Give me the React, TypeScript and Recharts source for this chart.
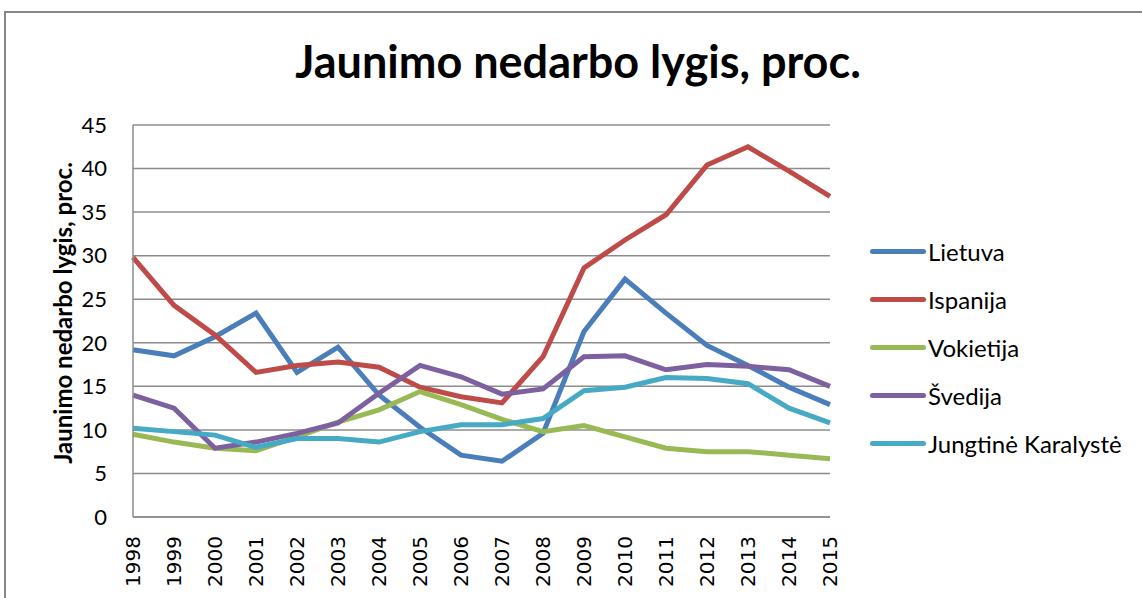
import { CartesianGrid, Label, Line, LineChart, XAxis, YAxis } from "recharts";

const years = [
  "1998", "1999", "2000", "2001", "2002", "2003", "2004", "2005", "2006",
  "2007", "2008", "2009", "2010", "2011", "2012", "2013", "2014", "2015",
];

const lietuva = [19.2, 18.5, 20.7, 23.4, 16.6, 19.5, 14.0, 10.3, 7.1, 6.4, 9.6, 21.3, 27.3, 23.4, 19.7, 17.4, 14.9, 12.9];
const ispanija = [29.8, 24.3, 20.9, 16.6, 17.4, 17.8, 17.2, 14.9, 13.8, 13.1, 18.4, 28.6, 31.8, 34.7, 40.4, 42.5, 39.7, 36.8];
const vokietija = [9.5, 8.6, 7.9, 7.6, 9.2, 10.9, 12.3, 14.4, 12.9, 11.2, 9.8, 10.5, 9.2, 7.9, 7.5, 7.5, 7.1, 6.7];
const svedija = [14.0, 12.5, 7.9, 8.6, 9.6, 10.8, 14.2, 17.4, 16.1, 14.1, 14.7, 18.4, 18.5, 16.9, 17.5, 17.3, 16.9, 15.0];
const jungtine = [10.2, 9.8, 9.4, 8.0, 9.0, 9.0, 8.6, 9.8, 10.6, 10.6, 11.3, 14.5, 14.9, 16.0, 15.9, 15.3, 12.5, 10.8];

const yTicks = [0, 5, 10, 15, 20, 25, 30, 35, 40, 45];

const series = [
  { key: "lietuva", name: "Lietuva", color: "#4A7EBB", values: lietuva },
  { key: "ispanija", name: "Ispanija", color: "#BE4B48", values: ispanija },
  { key: "vokietija", name: "Vokietija", color: "#98B954", values: vokietija },
  { key: "svedija", name: "Švedija", color: "#7D60A0", values: svedija },
  { key: "jungtine", name: "Jungtinė Karalystė", color: "#46AAC5", values: jungtine },
];

const data = years.map((year, i) => {
  const row: Record<string, string | number> = { year };
  series.forEach((s) => {
    row[s.key] = s.values[i];
  });
  return row;
});

const font = "Lato, 'Open Sans', sans-serif";

function YearTick(props: any) {
  const { x, y, payload } = props;
  return (
    <text
      x={x}
      y={y}
      transform={`rotate(-90, ${x}, ${y})`}
      textAnchor="end"
      dominantBaseline="central"
      fontFamily="'DejaVu Sans', sans-serif"
      fontSize={20}
      fill="#000"
    >
      {payload.value}
    </text>
  );
}

export default function App() {
  return (
    <div style={{ position: "absolute", left: 0, top: 0, width: 1142, height: 598, background: "#fff", overflow: "hidden" }}>
      <div
        style={{
          position: "absolute",
          left: 4,
          top: 11,
          width: 1200,
          height: 700,
          border: "2px solid #878787",
        }}
      />
      <div
        style={{
          position: "absolute",
          left: 0,
          width: 1156,
          top: 34,
          textAlign: "center",
          fontFamily: font,
          fontWeight: 700,
          fontSize: 45,
          color: "#000",
        }}
      >
        Jaunimo nedarbo lygis, proc.
      </div>
      <div style={{ position: "absolute", left: 0, top: 0 }}>
        <LineChart width={1142} height={598} data={data} margin={{ top: 125, right: 312, bottom: 6, left: 73 }}>
          <CartesianGrid vertical={false} stroke="#8c8c8c" strokeWidth={1.5} />
          <XAxis
            dataKey="year"
            interval={0}
            height={75}
            axisLine={{ stroke: "#8c8c8c", strokeWidth: 1.5 }}
            tickLine={false}
            tickSize={0}
            tickMargin={19}
            tick={<YearTick />}
          />
          <YAxis
            domain={[0, 45]}
            ticks={yTicks}
            width={60}
            axisLine={{ stroke: "#8c8c8c", strokeWidth: 1.5 }}
            tickLine={false}
            tickSize={0}
            tickMargin={26}
            tick={{ fill: "#000", fontSize: 22, fontFamily: font }}
          >
            <Label
              content={(props: any) => {
                const vb = props.viewBox;
                const cx = vb.x - 11;
                const cy = vb.y + vb.height / 2 - 8;
                return (
                  <text
                    x={cx}
                    y={cy}
                    transform={`rotate(-90, ${cx}, ${cy})`}
                    textAnchor="middle"
                    dominantBaseline="central"
                    fontFamily={font}
                    fontWeight={700}
                    fontSize={24}
                    fill="#000"
                  >
                    Jaunimo nedarbo lygis, proc.
                  </text>
                );
              }}
            />
          </YAxis>
          {series.map((s) => (
            <Line
              key={s.key}
              type="linear"
              dataKey={s.key}
              name={s.name}
              stroke={s.color}
              strokeWidth={5}
              dot={false}
              activeDot={false}
              isAnimationActive={false}
            />
          ))}
        </LineChart>
      </div>
      <div style={{ position: "absolute", left: 870, top: 227 }}>
        {series.map((s) => (
          <div key={s.key} style={{ display: "flex", alignItems: "center", height: 48.2 }}>
            <div style={{ width: 56, height: 5, borderRadius: 3, background: s.color, marginRight: 2 }} />
            <span style={{ fontFamily: font, fontSize: 24, color: "#000", whiteSpace: "nowrap" }}>{s.name}</span>
          </div>
        ))}
      </div>
    </div>
  );
}
